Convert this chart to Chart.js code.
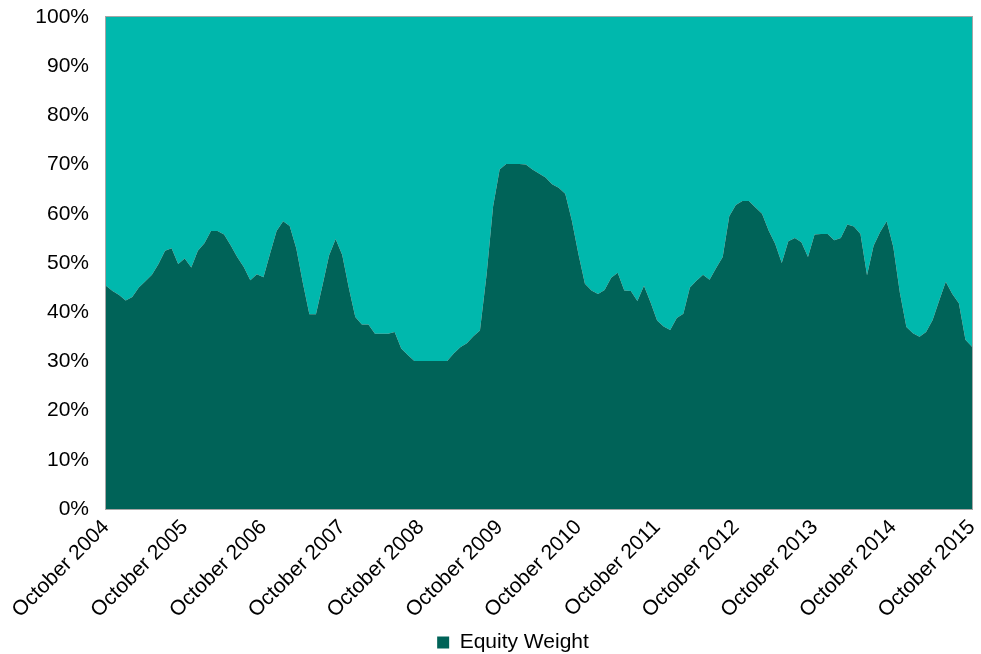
<!DOCTYPE html>
<html>
<head>
<meta charset="utf-8">
<script src="https://cdn.jsdelivr.net/npm/chart.js@4.4.1/dist/chart.umd.min.js"></script>
<style>
  html, body { margin: 0; padding: 0; background: #fff; }
  #wrap { width: 981px; height: 654px; }
</style>
</head>
<body>
<div id="wrap"><canvas id="chart" width="981" height="654"></canvas></div>
<script>
// one label every 12 months, Oct 2004 .. Oct 2015
const yearTicks = ["October 2004", "October 2005", "October 2006", "October 2007", "October 2008", "October 2009",
  "October 2010", "October 2011", "October 2012", "October 2013", "October 2014", "October 2015"];

// monthly equity weight in %
const equityWeight = [
  45.4, 44.3, 43.5, 42.4, 43.1, 45.0, 46.3, 47.6, 49.8, 52.5, 53.0, 49.8,
  50.9, 49.1, 52.5, 54.0, 56.5, 56.5, 55.8, 53.6, 51.2, 49.2, 46.5, 47.7,
  47.1, 51.9, 56.5, 58.5, 57.5, 53.0, 46.0, 39.6, 39.6, 45.5, 51.5, 54.9,
  51.7, 45.0, 39.0, 37.5, 37.5, 35.6, 35.6, 35.6, 36.0, 32.6, 31.3, 30.1,
  30.1, 30.1, 30.1, 30.1, 30.1, 31.6, 32.9, 33.7, 35.1, 36.3, 47.5, 61.5,
  69.0, 70.1, 70.1, 70.1, 70.0, 69.0, 68.2, 67.4, 66.0, 65.3, 64.1, 58.7,
  51.9, 45.8, 44.4, 43.7, 44.5, 47.0, 48.0, 44.4, 44.3, 42.3, 45.4, 42.0,
  38.3, 37.1, 36.4, 38.8, 39.7, 45.0, 46.4, 47.6, 46.6, 49.0, 51.2, 59.5,
  61.8, 62.6, 62.6, 61.3, 60.0, 56.6, 53.9, 50.0, 54.4, 55.1, 54.2, 51.2,
  55.8, 55.9, 55.9, 54.6, 55.1, 57.8, 57.4, 55.9, 47.5, 53.5, 56.3, 58.5,
  53.3, 44.0, 37.0, 35.7, 35.0, 36.0, 38.4, 42.4, 46.2, 43.7, 41.8, 34.4,
  33.0
];

const months = equityWeight.map((_, i) => (i % 12 === 0 ? yearTicks[i / 12] : ""));
const otherWeight = equityWeight.map((v) => 100 - v);

const FONT = { family: "'Liberation Sans', Arial, sans-serif", size: 21 };

const frame = {
  id: "frame",
  afterLayout(chart) {
    // legend sits a little right of centre in the original
    if (chart.legend) { chart.legend.left += 27; chart.legend.right += 27; }
  },
  afterDatasetsDraw(chart) {
    const a = chart.chartArea;
    const ctx = chart.ctx;
    ctx.save();
    ctx.strokeStyle = "#a6a6a6";
    ctx.lineWidth = 1;
    ctx.strokeRect(Math.round(a.left) - 0.5, Math.round(a.top) - 0.5, Math.round(a.right - a.left) + 1, Math.round(a.bottom - a.top) + 1);
    ctx.restore();
  },
};

new Chart(document.getElementById("chart"), {
  type: "line",
  data: {
    labels: months,
    datasets: [
      { label: "Equity Weight", data: equityWeight, backgroundColor: "#006358", borderColor: "#006358",
        fill: "origin", borderWidth: 0, pointRadius: 0, tension: 0, stack: "w" },
      { label: "Other", data: otherWeight, backgroundColor: "#00B8AD", borderColor: "#00B8AD",
        fill: "-1", borderWidth: 0, pointRadius: 0, tension: 0, stack: "w" },
    ],
  },
  options: {
    responsive: false,
    animation: false,
    layout: { padding: { left: 0, right: 9, top: 17, bottom: -9 } },
    scales: {
      x: {
        offset: false,
        grid: { display: false, drawTicks: false },
        border: { display: false },
        ticks: { autoSkip: false, maxRotation: 45, minRotation: 45, padding: 6, color: "#000", font: FONT },
        afterFit: (s) => { s.height = 123; s.paddingRight = 0; s.paddingLeft = 0; },
      },
      y: {
        stacked: true,
        min: 0,
        max: 100,
        grid: { display: false, drawTicks: false },
        border: { display: false },
        ticks: { stepSize: 10, padding: 17, color: "#000", font: FONT, callback: (v) => v + "%" },
        afterFit: (s) => { s.width = 106; s.paddingTop = 0; s.paddingBottom = 0; },
      },
    },
    plugins: {
      tooltip: { enabled: false },
      legend: {
        position: "bottom",
        labels: {
          color: "#000", font: FONT, boxWidth: 12, boxHeight: 12, padding: 0,
          filter: (item) => item.datasetIndex === 0,
        },
      },
    },
  },
  plugins: [frame],
});
</script>
</body>
</html>
